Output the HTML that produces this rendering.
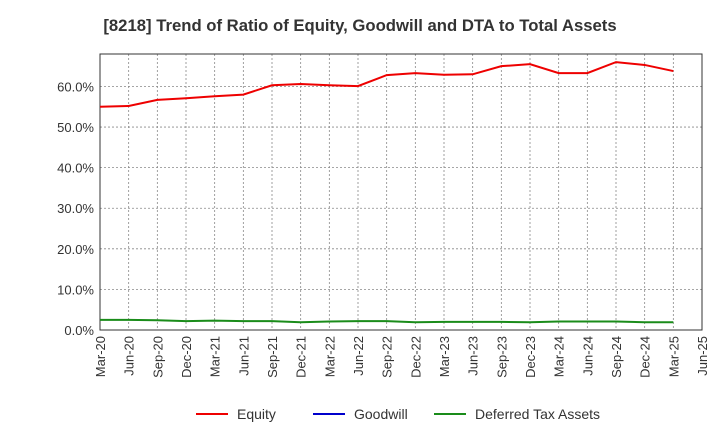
<!DOCTYPE html>
<html><head><meta charset="utf-8"><style>
body{margin:0;background:#fff;font-family:"Liberation Sans",Arial,sans-serif;}
svg text{font-family:"Liberation Sans",Arial,sans-serif;}
</style></head><body>
<svg id="chart" width="720" height="440">
<text x="360" y="31" text-anchor="middle" font-size="16.7" font-weight="bold" fill="#333">[8218]  Trend of Ratio of Equity, Goodwill and DTA to Total Assets</text>
<g id="grid"></g><g id="axes"></g><g id="series"></g>
<g>
<line x1="196" y1="414" x2="228" y2="414" stroke="#e00" stroke-width="2"/><text x="237" y="419" font-size="14" fill="#333">Equity</text>
<line x1="313" y1="414" x2="345" y2="414" stroke="#00c" stroke-width="2"/><text x="354" y="419" font-size="14" fill="#333">Goodwill</text>
<line x1="434" y1="414" x2="466" y2="414" stroke="#1a8c1a" stroke-width="2"/><text x="475" y="419" font-size="14" fill="#333">Deferred Tax Assets</text>
</g>
</svg>
<script>
const categories=["Mar-20","Jun-20","Sep-20","Dec-20","Mar-21","Jun-21","Sep-21","Dec-21","Mar-22","Jun-22","Sep-22","Dec-22","Mar-23","Jun-23","Sep-23","Dec-23","Mar-24","Jun-24","Sep-24","Dec-24","Mar-25","Jun-25"];
const equity=[55.0,55.2,56.7,57.1,57.6,58.0,60.3,60.6,60.3,60.1,62.8,63.3,62.9,63.0,65.0,65.5,63.3,63.3,66.0,65.3,63.8];
const dta=[2.5,2.5,2.4,2.2,2.3,2.2,2.2,1.9,2.1,2.2,2.2,1.9,2.0,2.0,2.0,1.9,2.1,2.1,2.1,1.9,1.9];
const yTicks=[0,10,20,30,40,50,60];
const NS="http://www.w3.org/2000/svg";
const L=100,R=702,T=54,B=330,YMAX=68;
const x=i=>L+(R-L)*i/(categories.length-1);
const y=v=>B-(B-T)*v/YMAX;
function mk(t,a,p){const e=document.createElementNS(NS,t);for(const k in a)e.setAttribute(k,a[k]);p.appendChild(e);return e;}
const grid=document.getElementById('grid'),axes=document.getElementById('axes'),ser=document.getElementById('series');
yTicks.forEach(v=>{
 const g=mk('line',{x1:L,x2:R,y1:y(v),y2:y(v),stroke:'#888','stroke-dasharray':'2,2','stroke-width':0.8},grid);
 
 
 const t=mk('text',{x:L-6,y:y(v)+5,'text-anchor':'end','font-size':13,fill:'#333'},axes);
 t.textContent=v.toFixed(1)+'%';
 
 
});
categories.forEach((c,i)=>{
 const g=mk('line',{x1:x(i),x2:x(i),y1:T,y2:B,stroke:'#888','stroke-dasharray':'2,2','stroke-width':0.8},grid);
 
 
 const t=mk('text',{x:x(i)+5,y:B+6,'text-anchor':'end','font-size':13,fill:'#333',transform:`rotate(-90 ${x(i)+5} ${B+6})`},axes);
 t.textContent=c;
 
 
});
const fr=mk('rect',{x:L,y:T,width:R-L,height:B-T,fill:'none',stroke:'#333','stroke-width':1},axes);


function line(d,col,name){
 const p=mk('polyline',{points:d.map((v,i)=>x(i)+','+y(v)).join(' '),fill:'none',stroke:col,'stroke-width':2},ser);
 
 
}
line(dta,'#1a8c1a','dta-line');
line(equity,'#e00','equity-line');
</script>
</body></html>
